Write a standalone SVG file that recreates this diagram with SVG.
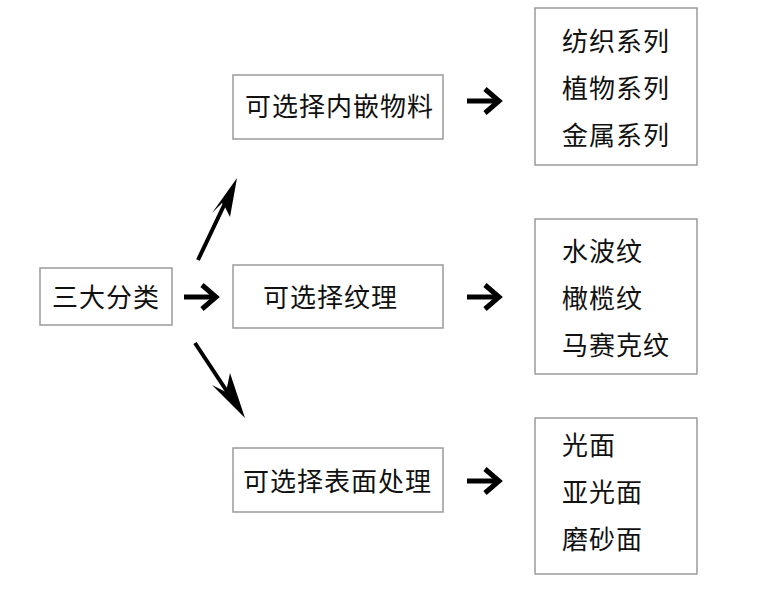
<svg xmlns="http://www.w3.org/2000/svg" width="760" height="608" viewBox="0 0 760 608">
<style>
.box{fill:#fff;stroke:#9a9a9a;stroke-width:1.5}
.t{font-family:"Noto Sans CJK SC","Noto Sans CJK JP",sans-serif;font-size:26px;fill:#111;letter-spacing:1px;dominant-baseline:central}
.shaft{stroke:#000;stroke-width:5;fill:none}
.chev{stroke:#000;stroke-width:5;fill:none;stroke-linejoin:miter;stroke-linecap:butt}
.diag{stroke:#000;stroke-width:4;fill:none}
.head{fill:#000}
</style>
<rect width="760" height="608" fill="#fff"/>
<g id="root">
<rect class="box" x="40" y="268" width="132" height="57"/>
<text class="t" x="52" y="295">三大分类</text>
</g>
<g id="inlay">
<rect class="box" x="233" y="75" width="210" height="64"/>
<text class="t" x="245" y="104">可选择内嵌物料</text>
</g>
<g id="texture">
<rect class="box" x="233" y="265" width="210" height="63"/>
<text class="t" x="263" y="295">可选择纹理</text>
</g>
<g id="surface">
<rect class="box" x="233" y="448" width="210" height="64"/>
<text class="t" x="243" y="479">可选择表面处理</text>
</g>
<g id="inlay-list">
<rect class="box" x="535" y="8" width="162" height="157"/>
<text class="t" x="562" y="39">纺织系列</text>
<text class="t" x="562" y="86">植物系列</text>
<text class="t" x="562" y="133">金属系列</text>
</g>
<g id="texture-list">
<rect class="box" x="535" y="219" width="162" height="155"/>
<text class="t" x="562" y="249">水波纹</text>
<text class="t" x="562" y="296">橄榄纹</text>
<text class="t" x="562" y="343">马赛克纹</text>
</g>
<g id="surface-list">
<rect class="box" x="535" y="418" width="162" height="156"/>
<text class="t" x="562" y="443">光面</text>
<text class="t" x="562" y="490">亚光面</text>
<text class="t" x="562" y="537">磨砂面</text>
</g>
<g id="connectors">
<path class="shaft" d="M184 297H214"/>
<path class="chev" d="M202 285L216 297L202 309"/>
<path class="shaft" d="M467 101H498"/>
<path class="chev" d="M485 89L499 101L485 113"/>
<path class="shaft" d="M467 297H498"/>
<path class="chev" d="M485 285L499 297L485 309"/>
<path class="shaft" d="M467 481H498"/>
<path class="chev" d="M485 469L499 481L485 493"/>
<path class="diag" d="M198 260L227 199"/>
<path class="head" d="M237 178L230 217L225 207L222 203L212 213Z"/>
<path class="diag" d="M195 343L234 402"/>
<path class="head" d="M245 418L212 385L222 390L226 392L230 373Z"/>
</g>
</svg>
